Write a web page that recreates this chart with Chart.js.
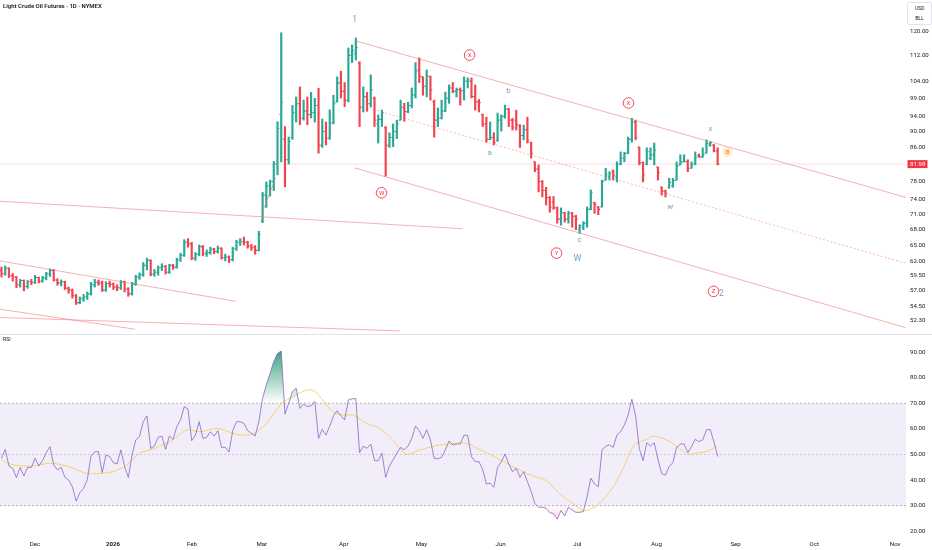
<!DOCTYPE html>
<html><head><meta charset="utf-8">
<script src="https://cdn.jsdelivr.net/npm/chart.js@4.4.1/dist/chart.umd.min.js"></script>
<style>
html,body{margin:0;padding:0;background:#fff;}
#wrap{position:relative;width:932px;height:550px;overflow:hidden;font-family:Roboto,"Liberation Sans",sans-serif;color:#131722;}
#c1{position:absolute;left:0;top:0;}
#c2{position:absolute;left:0;top:335px;}
#sep{position:absolute;left:0;top:334px;width:932px;height:1px;background:#e0e3eb;}
#title{position:absolute;left:3px;top:2px;font-size:6px;font-weight:600;white-space:nowrap;}
#rsiTitle{position:absolute;left:3px;top:336px;font-size:5.2px;}
#unit{position:absolute;left:907px;top:2px;width:23px;height:21px;border:1px solid #e0e3eb;border-radius:2px;font-size:5px;text-align:center;line-height:10px;background:#fff;}
</style></head><body>
<div id="wrap">
<canvas id="c1" width="932" height="334"></canvas>
<div id="sep"></div>
<canvas id="c2" width="932" height="215"></canvas>
<div id="title">Light Crude Oil Futures · 1D · NYMEX</div>
<div id="rsiTitle">RSI</div>
<div id="unit">USD<br>BLL</div>
</div>
<script>
// ---------- DATA ----------
const opens = [
60.4,59.9,60.8,59.5,59.3,58.0,58.7,57.7,58.5,58.4,
59.2,58.6,59.1,59.8,60.4,58.8,58.3,58.5,57.4,57.1,
56.2,55.1,55.7,56.0,56.5,58.0,58.4,58.3,57.1,58.2,
58.1,57.6,57.5,58.5,57.3,56.5,58.1,59.3,59.7,61.3,
62.2,59.8,60.1,60.9,61.1,60.1,61.3,61.0,62.3,63.1,
65.5,65.2,62.6,63.3,64.7,63.4,63.6,64.2,63.8,64.4,
62.7,62.8,62.3,64.3,65.5,65.6,65.5,64.8,64.6,64.0,
69.6,75.0,77.0,78.0,82.0,94.5,88.0,83.0,88.5,95.0,
97.5,93.5,95.5,94.5,95.0,97.0,86.5,90.0,88.3,92.3,
98.0,103.5,101.0,98.5,112.0,112.5,109.5,96.5,99.5,97.5,
99.0,92.0,93.2,91.0,86.5,88.5,90.0,93.0,96.5,95.3,
97.0,100.0,107.5,105.3,102.5,105.5,98.0,93.0,93.5,95.5,
99.0,102.0,101.0,101.5,101.2,104.0,104.0,99.5,98.0,94.6,
92.0,88.0,88.5,87.8,93.0,94.0,96.0,93.0,93.0,91.5,
89.0,90.5,87.3,82.5,80.8,78.0,76.0,74.5,73.5,72.3,
70.0,71.3,70.0,71.2,70.6,68.0,68.4,69.2,72.0,73.3,
72.5,72.5,78.3,79.0,80.3,79.0,82.0,83.3,84.6,88.0,
92.5,86.0,82.3,82.0,83.3,84.2,81.3,76.7,75.9,76.7,
77.0,78.3,81.8,82.5,82.6,81.0,82.0,84.0,83.7,84.6,
86.5,86.6,85.2];
const highs = [
61.0,61.2,60.9,59.9,59.4,58.9,58.8,58.7,58.9,59.6,
59.3,59.4,60.1,60.7,60.6,59.0,58.8,58.6,57.6,57.3,
56.4,56.0,56.4,56.8,58.4,58.9,58.8,58.6,58.5,58.6,
58.3,58.0,58.7,58.6,57.5,58.4,59.6,60.0,61.8,62.6,
62.3,60.6,61.2,61.6,61.3,61.5,61.5,62.6,63.5,66.0,
66.2,65.5,63.6,65.0,64.9,64.1,64.6,64.4,64.8,64.5,
63.3,63.0,64.6,65.9,66.2,66.5,65.7,65.1,64.9,67.6,
75.6,77.9,78.3,82.6,92.6,119.5,91.3,88.6,97.0,99.4,
102.3,98.5,99.4,100.7,99.0,101.9,93.3,92.5,95.8,99.9,
105.3,107.0,103.6,114.4,115.4,117.7,110.0,102.3,100.7,105.9,
99.4,94.4,95.7,91.3,89.7,92.0,93.0,98.5,97.6,97.9,
102.0,109.7,111.2,105.3,107.4,105.5,98.5,96.3,98.5,100.8,
102.9,103.6,102.0,102.0,105.3,105.0,105.0,102.9,98.7,94.6,
93.8,92.5,89.7,94.9,94.4,97.1,96.2,93.5,95.7,91.8,
91.7,93.8,87.3,82.5,81.8,78.2,76.7,74.7,74.7,72.5,
72.3,71.4,71.6,71.4,70.8,68.9,69.5,72.5,76.1,73.5,
72.6,78.3,81.0,80.2,80.6,82.5,84.9,84.8,88.6,93.5,
93.0,86.1,82.5,85.9,85.9,87.1,81.3,76.8,76.1,78.7,
78.7,82.5,84.2,84.2,83.0,82.5,84.9,84.4,85.9,87.9,
87.4,86.7,85.9];
const lows = [
59.3,59.6,59.2,58.6,57.5,57.6,57.0,57.4,58.0,58.2,
58.3,58.4,58.8,59.4,58.6,57.9,57.8,57.2,56.6,55.8,
54.8,54.9,55.3,55.6,56.3,57.6,57.9,56.9,56.9,57.6,
57.2,57.0,57.2,56.8,56.1,56.3,57.9,58.9,59.4,60.5,
59.5,59.4,59.6,60.4,59.8,59.9,60.6,60.8,62.0,62.9,
64.6,62.3,62.2,63.0,63.0,62.9,63.3,63.4,63.5,62.4,
62.1,61.8,62.1,64.0,64.9,65.0,64.4,64.0,63.3,63.9,
69.3,72.4,74.8,76.0,79.5,82.5,76.8,82.0,88.0,92.5,
91.8,93.0,91.8,93.6,92.5,84.6,86.0,86.6,88.0,92.0,
98.0,99.1,96.7,98.0,109.7,110.5,91.3,95.2,95.4,96.6,
91.3,87.1,91.3,79.2,86.0,86.2,88.2,93.0,92.7,95.0,
96.3,99.1,103.6,99.9,99.4,98.5,88.6,91.3,93.3,95.3,
97.6,100.6,99.4,97.1,98.5,102.0,99.1,95.7,95.2,91.3,
87.3,87.9,86.6,87.5,90.1,93.5,91.3,90.4,90.4,86.0,
87.9,87.1,83.4,80.2,75.7,74.6,72.9,71.4,72.0,69.2,
68.8,69.4,69.2,68.4,67.9,67.2,67.9,68.4,71.9,71.2,
70.9,72.5,78.3,78.3,78.3,77.9,81.8,82.5,84.5,87.3,
87.9,81.8,77.9,81.8,83.0,81.8,78.3,75.0,74.6,76.5,
76.7,78.3,81.8,82.5,80.2,81.0,81.8,83.6,83.6,84.6,
86.3,84.9,81.8];
const closes = [
59.9,60.8,59.5,59.3,58.0,58.7,57.7,58.5,58.4,59.2,
58.6,59.1,59.8,60.4,58.8,58.3,58.5,57.4,57.1,56.2,
55.1,55.7,56.0,56.5,58.0,58.4,58.3,57.1,58.2,58.1,
57.6,57.5,58.5,57.3,56.5,58.1,59.3,59.7,61.3,62.2,
59.8,60.1,60.9,61.1,60.1,61.3,61.0,62.3,63.1,65.5,
65.2,62.6,63.3,64.7,63.4,63.6,64.2,63.8,64.4,62.7,
62.8,62.3,64.3,65.5,65.6,65.5,64.8,64.5,64.0,67.0,
75.0,77.0,78.0,82.0,90.8,97.9,83.0,87.5,95.0,97.5,
93.5,95.5,94.5,95.0,97.0,86.5,90.0,88.3,92.3,97.5,
103.5,101.0,98.5,112.0,113.5,114.5,96.5,99.5,97.5,101.5,
93.0,93.2,95.0,86.5,88.5,90.0,92.0,96.5,95.3,97.0,
100.0,107.0,105.5,102.5,105.5,101.5,93.0,93.5,95.5,99.0,
102.0,101.0,101.5,101.2,104.0,104.3,99.5,98.0,97.8,92.0,
88.0,88.5,87.2,93.0,94.0,96.0,93.0,91.0,91.8,89.0,
90.5,87.8,84.5,80.8,78.0,76.0,74.5,72.5,72.3,70.0,
71.3,70.0,71.2,70.6,70.0,68.7,69.2,72.0,75.5,73.0,
72.0,78.0,79.5,79.8,79.4,82.0,83.5,84.5,88.0,92.5,
88.5,82.3,79.5,85.0,84.2,85.3,80.0,75.8,75.4,77.8,
78.2,81.5,82.5,82.6,81.0,82.0,83.5,83.7,84.2,87.0,
87.2,85.2,81.98];
const rsiValues = [
48.5,52.0,45.5,44.6,41.0,44.9,41.6,45.0,44.9,48.5,
45.5,47.6,50.7,53.1,45.9,44.0,45.0,41.1,40.1,37.4,
31.8,35.1,36.8,40.1,49.4,51.1,51.1,42.9,49.8,49.2,
46.8,46.3,51.8,45.3,41.0,49.8,55.7,57.0,62.8,65.1,
52.4,53.3,56.7,57.2,52.0,57.2,55.9,60.9,63.5,68.7,
67.7,55.4,57.6,62.8,56.3,56.7,58.9,57.2,59.3,52.8,
52.8,51.0,59.3,62.8,62.8,
62.2,59.3,58.3,57.2,62.8,72.0,77.2,81.7,86.3,89.5,
90.4,65.8,70.0,74.6,75.9,68.0,69.7,68.7,69.0,70.7,
56.3,59.8,57.6,61.1,65.1,67.1,65.1,63.5,71.3,71.8,
71.8,50.7,53.3,52.4,54.1,47.6,47.6,50.5,41.1,45.5,
47.9,50.5,52.8,51.8,53.3,56.3,61.1,59.3,56.3,59.6,
55.7,48.5,48.3,48.9,51.8,55.3,53.7,54.1,54.1,57.6,
57.4,49.2,47.2,47.2,
44.2,38.5,38.8,37.2,45.0,47.2,50.2,46.3,43.3,44.6,
41.1,43.3,39.4,35.5,30.9,29.4,29.4,29.0,27.3,26.8,
24.7,28.1,26.0,29.4,28.3,27.4,27.4,27.7,33.5,40.7,
38.5,37.4,51.8,53.3,53.7,52.8,57.6,58.9,61.5,65.4,
71.6,65.1,52.4,47.6,54.6,53.3,54.6,48.1,42.6,41.9,
45.3,46.8,52.8,54.1,54.1,50.7,53.1,55.9,55.0,55.7,
59.6,59.8,55.0,49.2];
// RSI-based moving average, read at sampled bars
const rsiMaBars = [0,2.3,5.0,8.4,13.0,17.5,20.2,22.9,26.4,29.9,33.6,37.1,40.6,44.3,45.9,49.7,53.2,57.7,62.0,63.9,67.4,71.1,72.7,75.4,78.1,80.8,83.4,86.1,88.8,91.5,94.2,97.9,101.4,104.9,108.6,112.1,115.6,119.3,124.7,127.4,130.9,135.4,138.9,142.4,146.1,149.6,153.1,156.3,159.8,163.5,166.5,169.7,173.0,174.5,178.3,181.8,183.9,187.1,189.0,191.7];
const rsiMaValues = [47.9,46.3,45.6,45.5,46.6,45.5,44.0,42.6,42.6,43.3,45.9,50.5,52.2,54.4,55.7,59.6,58.9,60.2,58.3,57.6,58.0,62.2,65.4,70.3,72.6,74.6,75.2,71.3,66.7,65.4,65.4,62.2,60.2,55.7,50.1,51.8,53.1,54.1,54.4,52.4,50.1,46.6,44.0,41.6,39.8,34.8,30.9,28.1,30.3,36.2,44.0,53.7,55.9,57.2,55.7,52.4,50.1,50.7,51.1,53.1];
const monthTickBars = [8.97,29.87,51.03,69.78,91.75,112.6,133.8,154.4,175.6,196.8,217.9,239.6];
const monthTickLabels = ['Dec','2026','Feb','Mar','Apr','May','Jun','Jul','Aug','Sep','Oct','Nov'];
const priceTicks = [120,112,104,99,94,90,86,78,74,71,68,65,62,59.5,57,54.5,52.3];
const rsiTicks = [90,80,70,60,50,40,30,20];
const rsiUpper = 70, rsiMid = 50, rsiLower = 30;
// trend-line anchors: [bar, price]
const trendFrom = [[94.97,116.74],[96.6,96.8],[94.7,81.1],[-0.4,73.7],[-0.4,62.1],[-0.4,54.06],[-0.4,52.8],[69.8,71.1]];
const trendTo   = [[242.5,74.5],[242.3,61.7],[242.3,51.3],[123.6,68.1],[62.8,55.3],[35.8,51.05],[106.75,50.8],[73.5,78.8]];
const trendDashed = [false,true,false,false,false,false,false,false];
// wave labels
const waveText  = ['1','X','W','b','a','X','c','Y','W','w','x','B','Z','2'];
const waveBar   = [94.7,125.5,101.9,135.9,130.9,168.1,155.0,148.8,154.4,179.3,190.1,194.6,190.9,193.0];
const wavePrice = [123.9,112.1,75.5,101.1,84.7,97.7,65.9,63.5,62.5,72.5,90.6,84.9,56.9,56.5];
const waveKind  = ['num','circ','circ','minor','minor','circ','minor','circ','major','minor','minor','orange','circ','num'];

// ---------- CONFIG ----------
const X_MIN = -0.4, X_MAX = 242.5;
const FONT = 'Roboto';
const upColor = '#2aa896', downColor = '#f2434f';
const barColors = closes.map((c,i)=> c >= opens[i] ? upColor : downColor);
const waveStyle = {
  num:   {color:'#8e93c6', size:8.5},
  minor: {color:'#86a0cc', size:8},
  major: {color:'#6f9fc8', size:9},
  circ:  {color:'#f23645', size:6},
  orange:{color:'#f59a23', size:6}
};

const ohlcTicks = {id:'ohlcTicks', afterDatasetsDraw(chart){
  const {ctx, scales:{x,y}} = chart;
  ctx.save(); ctx.lineWidth = 1.1;
  for (let i=0;i<opens.length;i++){
    const px = x.getPixelForValue(i);
    const yo = y.getPixelForValue(opens[i]), yc = y.getPixelForValue(closes[i]);
    ctx.strokeStyle = barColors[i];
    ctx.beginPath();
    ctx.moveTo(px-1.8, yo); ctx.lineTo(px, yo);
    ctx.moveTo(px, yc); ctx.lineTo(px+1.8, yc);
    ctx.stroke();
  }
  ctx.restore();
}};

const wavePlugin = {id:'waves', afterDatasetsDraw(chart){
  const {ctx, scales:{x,y}} = chart;
  ctx.save(); ctx.textAlign='center'; ctx.textBaseline='middle';
  waveText.forEach((t,i)=>{
    const st = waveStyle[waveKind[i]];
    const px = x.getPixelForValue(waveBar[i]), py = y.getPixelForValue(wavePrice[i]);
    if (waveKind[i]==='circ'){
      ctx.beginPath(); ctx.arc(px,py,5.3,0,Math.PI*2);
      ctx.lineWidth=0.9; ctx.strokeStyle=st.color; ctx.stroke();
      ctx.fillStyle=st.color; ctx.font=st.size+'px '+FONT; ctx.fillText(t,px,py+0.4);
    } else if (waveKind[i]==='orange'){
      ctx.beginPath(); ctx.arc(px,py,5,0,Math.PI*2);
      ctx.fillStyle='rgba(255,167,38,0.22)'; ctx.fill();
      ctx.fillStyle=st.color; ctx.font='bold '+st.size+'px '+FONT; ctx.fillText(t,px,py+0.4);
    } else {
      ctx.fillStyle=st.color; ctx.font=st.size+'px '+FONT; ctx.fillText(t,px,py);
    }
  });
  ctx.restore();
}};

const lastPrice = {id:'lastPrice', afterDraw(chart){
  const {ctx, chartArea, scales:{y}} = chart;
  const v = closes[closes.length-1];
  const py = y.getPixelForValue(v);
  ctx.save();
  ctx.fillStyle = '#f23645';
  ctx.fillRect(chartArea.right+1.5, py-4, 20, 8);
  ctx.fillStyle = '#fff'; ctx.font = '6.1px '+FONT;
  ctx.textAlign='left'; ctx.textBaseline='middle';
  ctx.fillText(v.toFixed(2), chartArea.right+4, py+0.3);
  ctx.restore();
}};

const yTickOpts = {autoSkip:false, padding:4, color:'#131722', font:{size:6.1, family:FONT}, callback:v=>Number(v).toFixed(2)};

const trendSets = trendFrom.map((a,i)=>({
  type:'line', data:[{x:a[0],y:a[1]},{x:trendTo[i][0],y:trendTo[i][1]}],
  borderColor: trendDashed[i] ? 'rgba(242,110,120,0.5)' : 'rgba(242,110,120,0.55)',
  borderWidth:1, borderDash: trendDashed[i] ? [2,2] : [], pointRadius:0, fill:false, order:1
}));
const lastClose = closes[closes.length-1];

new Chart(document.getElementById('c1'), {
  type:'bar',
  data:{datasets:[
    {type:'bar', data: highs.map((h,i)=>({x:i, y:[lows[i], h]})), backgroundColor: barColors,
     borderWidth:0, barThickness:1.5, grouped:false, order:5},
    ...trendSets,
    {type:'line', data:[{x:X_MIN,y:lastClose},{x:X_MAX,y:lastClose}], borderColor:'rgba(242,54,69,0.18)',
     borderWidth:1, pointRadius:0, fill:false, order:6}
  ]},
  options:{
    responsive:false, animation:false, events:[],
    layout:{padding:0, autoPadding:false},
    plugins:{legend:{display:false}, tooltip:{enabled:false}},
    scales:{
      x:{type:'linear', min:X_MIN, max:X_MAX, offset:false, bounds:'data', display:false},
      y:{type:'logarithmic', position:'right', min:50.35, max:131.28, bounds:'data', beginAtZero:false,
         grid:{display:false, drawTicks:false}, border:{display:false},
         afterBuildTicks:s=>{s.ticks = priceTicks.map(v=>({value:v}));},
         afterFit:s=>{s.width=26; s.paddingTop=0; s.paddingBottom=0;},
         ticks:yTickOpts}
    }
  },
  plugins:[ohlcTicks, wavePlugin, lastPrice]
});

// ---------- RSI ----------
const levelLine = v => [{x:X_MIN,y:v},{x:X_MAX,y:v}];
const rsiPoints = rsiValues.map((v,i)=>({x:i,y:v}));
const maPoints = rsiMaBars.map((b,i)=>({x:b,y:rsiMaValues[i]}));
function obGrad(c){
  const ch=c.chart; const s=ch.scales && ch.scales.y;
  if(!ch.chartArea || !s) return 'rgba(0,0,0,0)';
  const g=ch.ctx.createLinearGradient(0,s.getPixelForValue(91),0,s.getPixelForValue(rsiUpper));
  g.addColorStop(0,'rgba(34,150,110,0.9)'); g.addColorStop(1,'rgba(34,150,110,0)');
  return g;
}
function osGrad(c){
  const ch=c.chart; const s=ch.scales && ch.scales.y;
  if(!ch.chartArea || !s) return 'rgba(0,0,0,0)';
  const g=ch.ctx.createLinearGradient(0,s.getPixelForValue(rsiLower),0,s.getPixelForValue(22));
  g.addColorStop(0,'rgba(242,54,69,0)'); g.addColorStop(1,'rgba(242,54,69,0.3)');
  return g;
}
new Chart(document.getElementById('c2'), {
  type:'line',
  data:{datasets:[
    {data:levelLine(rsiUpper), borderColor:'rgba(120,123,134,0.55)', borderWidth:1, borderDash:[2,2],
     pointRadius:0, fill:1, backgroundColor:'rgba(126,87,194,0.1)', order:10},
    {data:levelLine(rsiLower), borderColor:'rgba(120,123,134,0.55)', borderWidth:1, borderDash:[2,2],
     pointRadius:0, fill:false, order:10},
    {data:levelLine(rsiMid), borderColor:'rgba(120,123,134,0.3)', borderWidth:1, borderDash:[2,2],
     pointRadius:0, fill:false, order:9},
    {data:rsiPoints, borderWidth:0, borderColor:'rgba(0,0,0,0)', pointRadius:0,
     fill:{target:{value:rsiUpper}, below:'rgba(0,0,0,0)'}, backgroundColor:obGrad, order:8},
    {data:rsiPoints, borderWidth:0, borderColor:'rgba(0,0,0,0)', pointRadius:0,
     fill:{target:{value:rsiLower}, above:'rgba(0,0,0,0)'}, backgroundColor:osGrad, order:8},
    {data:maPoints, borderColor:'rgba(247,200,60,0.75)', borderWidth:1, pointRadius:0, fill:false, tension:0.3, order:2},
    {data:rsiPoints, borderColor:'rgba(126,87,194,0.72)', borderWidth:1, pointRadius:0, fill:false, order:1}
  ]},
  options:{
    responsive:false, animation:false, events:[],
    layout:{padding:0, autoPadding:false},
    plugins:{legend:{display:false}, tooltip:{enabled:false}},
    scales:{
      x:{type:'linear', min:X_MIN, max:X_MAX, offset:false, bounds:'data',
         grid:{display:false, drawTicks:false}, border:{display:false},
         afterBuildTicks:s=>{s.ticks = monthTickBars.map(v=>({value:v}));},
         afterFit:s=>{s.height=12; s.paddingLeft=0; s.paddingRight=0;},
         ticks:{autoSkip:false, maxRotation:0, minRotation:0, padding:3, color:'#131722',
           font:c=>({size:6.1, family:FONT, weight: c.index===1 ? 'bold' : 'normal'}),
           callback:(v,i)=>monthTickLabels[i]}},
      y:{type:'linear', position:'right', min:17.38, max:96.68, bounds:'data',
         grid:{display:false, drawTicks:false}, border:{display:false},
         afterBuildTicks:s=>{s.ticks = rsiTicks.map(v=>({value:v}));},
         afterFit:s=>{s.width=26; s.paddingTop=0; s.paddingBottom=0;},
         ticks:yTickOpts}
    }
  }
});
</script>
</body></html>
